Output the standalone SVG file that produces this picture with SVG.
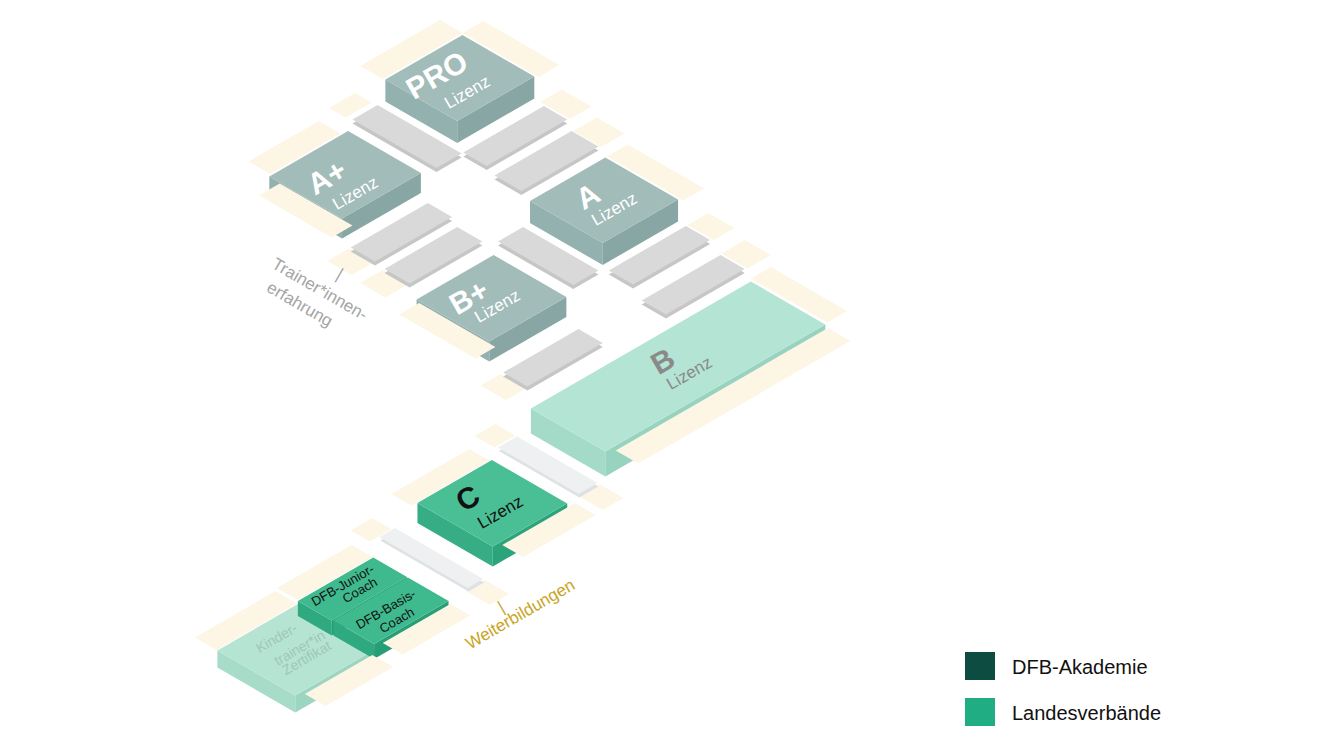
<svg xmlns="http://www.w3.org/2000/svg" width="1330" height="749" viewBox="0 0 1330 749">
<style>
.cr{fill:#fdf6e5}
.gr{fill:#d9d9d9}.grs{fill:#c6c6c6}
.lg{fill:#eef0f1}.lgs{fill:#dfe2e4}
.tT{fill:#a2bcb9}.tL{fill:#93b1ae}.tF{fill:#88a7a4}
.bT{fill:#b4e4d4}.bL{fill:#a3dbc8}.bF{fill:#98d3bf}
.cT{fill:#4abf96}.cL{fill:#36ad84}.cF{fill:#2ca47b}
.kT{fill:#b6e4d3}.kL{fill:#a6dcc8}.kF{fill:#9cd5c0}
.jT{fill:#3fb98e}.jL{fill:#2fa980}.jF{fill:#279f76}
text{font-family:"Liberation Sans","DejaVu Sans",sans-serif}
.big{font-weight:bold;font-size:30px;text-anchor:middle}
.liz{font-size:17px;text-anchor:middle}
.w{fill:#ffffff}
.sm{font-size:13px;text-anchor:middle;fill:#111}
.kt{font-size:14px;text-anchor:middle;fill:#a0c6b8}
</style>
<rect width="1330" height="749" fill="#ffffff"/>
<g id="plane" transform="matrix(0.866,-0.5,0.866,0.5,0,0)">
  <g id="tiles">
    <rect class="cr" x="142" y="274" width="92" height="26"/>
    <rect class="cr" x="234" y="300" width="24" height="88"/>
    <rect class="cr" x="82" y="298" width="30" height="19"/>
    <rect class="cr" x="210" y="414" width="25" height="34"/>
    <rect class="cr" x="200" y="462" width="27" height="32"/>
    <rect class="cr" x="194" y="507" width="24" height="88"/>
    <rect class="cr" x="-18" y="305" width="81" height="25"/>
    <rect class="cr" x="-72" y="450" width="25" height="28"/>
    <rect class="cr" x="-75" y="491" width="26" height="29"/>
    <rect class="cr" x="155" y="712" width="23" height="88"/>
    <rect class="cr" x="172" y="622" width="24" height="30"/>
    <rect class="cr" x="163" y="670" width="27" height="30"/>
    <rect class="cr" x="-108" y="663" width="23" height="29"/>
    <rect class="cr" x="-162" y="710" width="24" height="23"/>
    <rect class="cr" x="-268" y="720" width="90" height="23"/>
    <rect class="cr" x="-162" y="830" width="24" height="28"/>
    <rect class="cr" x="-328" y="733" width="25" height="22"/>
    <rect class="cr" x="-322" y="860" width="22" height="28"/>
    <rect class="cr" x="-428" y="748" width="86" height="24"/>
    <rect class="cr" x="-525" y="750" width="93" height="25"/>
    <!-- gray bars -->
    <rect class="grs" x="80" y="327" width="29" height="97"/><rect class="gr" x="84" y="323" width="29" height="97"/>
    <rect class="grs" x="111" y="424" width="93" height="27"/><rect class="gr" x="115" y="420" width="93" height="27"/>
    <rect class="grs" x="106" y="465" width="89" height="31"/><rect class="gr" x="110" y="461" width="89" height="31"/>
    <rect class="grs" x="-49" y="454" width="89" height="28"/><rect class="gr" x="-45" y="450" width="89" height="28"/>
    <rect class="grs" x="-51" y="495" width="84" height="29"/><rect class="gr" x="-47" y="491" width="84" height="29"/>
    <rect class="grs" x="42" y="533" width="29" height="87"/><rect class="gr" x="46" y="529" width="29" height="87"/>
    <rect class="grs" x="77" y="626" width="89" height="28"/><rect class="gr" x="81" y="622" width="89" height="28"/>
    <rect class="grs" x="66" y="675" width="91" height="28"/><rect class="gr" x="70" y="671" width="91" height="28"/>
    <rect class="grs" x="-86" y="667" width="87" height="28"/><rect class="gr" x="-82" y="663" width="87" height="28"/>
    <rect class="lgs" x="-163" y="739" width="22" height="93"/><rect class="lg" x="-160" y="735" width="22" height="93"/>
    <rect class="lgs" x="-321" y="760" width="18" height="102"/><rect class="lg" x="-318" y="756" width="18" height="102"/>
  </g>
  <g id="node-pro">
    <polygon class="tL" points="143,302 143,385 121,407 121,324"/>
    <polygon class="tF" points="143,385 232,385 210,407 121,407"/>
    <rect class="tT" x="143" y="302" width="89" height="83"/>
  </g>
  <g id="node-aplus">
    <polygon class="tL" points="-21,332 -21,416 -41,436 -41,352"/>
    <polygon class="tF" points="-21,416 70,416 50,436 -41,436"/>
    <rect class="tT" x="-21" y="332" width="91" height="84"/>
  </g>
  <g id="node-a">
    <polygon class="tL" points="105,507 105,591 83,613 83,529"/>
    <polygon class="tF" points="105,591 192,591 170,613 83,613"/>
    <rect class="tT" x="105" y="507" width="87" height="84"/>
  </g>
  <g id="node-bplus">
    <polygon class="tL" points="-59,540 -59,624 -79,644 -79,560"/>
    <polygon class="tF" points="-59,624 30,624 10,644 -79,644"/>
    <rect class="tT" x="-59" y="540" width="89" height="84"/>
  </g>
  <g id="node-b">
    <polygon class="bL" points="-102,715 -102,801 -127,826 -127,740"/>
    <polygon class="bF" points="-102,801 152,801 127,826 -127,826"/>
    <rect class="bT" x="-102" y="715" width="254" height="86"/>
  </g>
  <g id="node-c">
    <polygon class="cL" points="-262,744 -262,831 -282,851 -282,764"/>
    <polygon class="cF" points="-262,831 -176,831 -196,851 -282,851"/>
    <rect class="cT" x="-262" y="744" width="86" height="87"/>
  </g>
  <g id="node-kinder">
    <polygon class="kL" points="-525,776 -525,866 -542,883 -542,793"/>
    <polygon class="kF" points="-525,866 -432,866 -449,883 -542,883"/>
    <rect class="kT" x="-525" y="776" width="93" height="90"/>
  </g>
  <g id="node-junior">
    <polygon class="jL" points="-429,773 -429,812 -444,827 -444,788"/>
    <polygon class="jF" points="-429,812 -342,812 -357,827 -444,827"/>
    <rect class="jT" x="-429" y="773" width="87" height="39"/>
  </g>
  <g id="node-basis">
    <polygon class="jL" points="-428,813 -428,860 -443,875 -443,828"/>
    <polygon class="jF" points="-428,860 -342,860 -357,875 -443,875"/>
    <rect class="jT" x="-428" y="813" width="86" height="47"/>
  </g>
  <g id="front-tiles">
    <rect class="cr" x="-46" y="345" width="24" height="84"/>
    <rect class="cr" x="-84" y="545" width="23" height="88"/>
    <rect class="cr" x="-95" y="806" width="245" height="26"/>
    <rect class="cr" x="-255" y="835" width="84" height="24"/>
    <rect class="cr" x="-422" y="864" width="78" height="23"/>
    <rect class="cr" x="-518" y="870" width="78" height="24"/>
  </g>
</g>
<g id="labels">
  <text class="big w" transform="translate(442,84) rotate(-30)">PRO</text>
  <text class="liz w" transform="translate(470,97) rotate(-30)">Lizenz</text>
  <text class="big w" transform="translate(332,186) rotate(-30)">A+</text>
  <text class="liz w" transform="translate(358,198) rotate(-30)">Lizenz</text>
  <text class="big w" transform="translate(593,205) rotate(-30)">A</text>
  <text class="liz w" transform="translate(617,214) rotate(-30)">Lizenz</text>
  <text class="big w" transform="translate(474,306) rotate(-30)">B+</text>
  <text class="liz w" transform="translate(500,311) rotate(-30)">Lizenz</text>
  <text class="big" fill="#8a8a8a" transform="translate(668,370) rotate(-30)">B</text>
  <text class="liz" fill="#8a8a8a" transform="translate(692,378) rotate(-30)">Lizenz</text>
  <text class="big" fill="#111" transform="translate(473,507) rotate(-30)">C</text>
  <text class="liz" fill="#111" transform="translate(503,517) rotate(-30)">Lizenz</text>
  <text class="sm" transform="translate(345,589) rotate(-30)">DFB-Junior-</text>
  <text class="sm" transform="translate(362,594) rotate(-30)">Coach</text>
  <text class="sm" transform="translate(388,613) rotate(-30)">DFB-Basis-</text>
  <text class="sm" transform="translate(399,624) rotate(-30)">Coach</text>
  <text class="kt" transform="translate(279,642) rotate(-30)">Kinder-</text>
  <text class="kt" transform="translate(302,652) rotate(-30)">trainer*in</text>
  <text class="kt" transform="translate(309,662) rotate(-30)">Zertifikat</text>
  <text font-size="17" fill="#a5a5a5" text-anchor="middle" transform="translate(337,279) rotate(30)">|</text>
  <text font-size="17" fill="#a5a5a5" text-anchor="middle" transform="translate(317,294) rotate(30)">Trainer*innen-</text>
  <text font-size="17" fill="#a5a5a5" text-anchor="middle" transform="translate(297,309) rotate(30)">erfahrung</text>
  <text font-size="17" fill="#c9a41f" text-anchor="middle" transform="translate(504,612) rotate(-30)">|</text>
  <text font-size="17" fill="#c9a41f" text-anchor="middle" transform="translate(523,619) rotate(-30)">Weiterbildungen</text>
</g>
<g id="legend">
  <rect x="965" y="652" width="30" height="28" fill="#0d4d41"/>
  <text x="1012" y="674" font-size="20" fill="#111">DFB-Akademie</text>
  <rect x="965" y="698" width="30" height="28" fill="#21ad83"/>
  <text x="1012" y="720" font-size="20" fill="#111">Landesverbände</text>
</g>
</svg>
